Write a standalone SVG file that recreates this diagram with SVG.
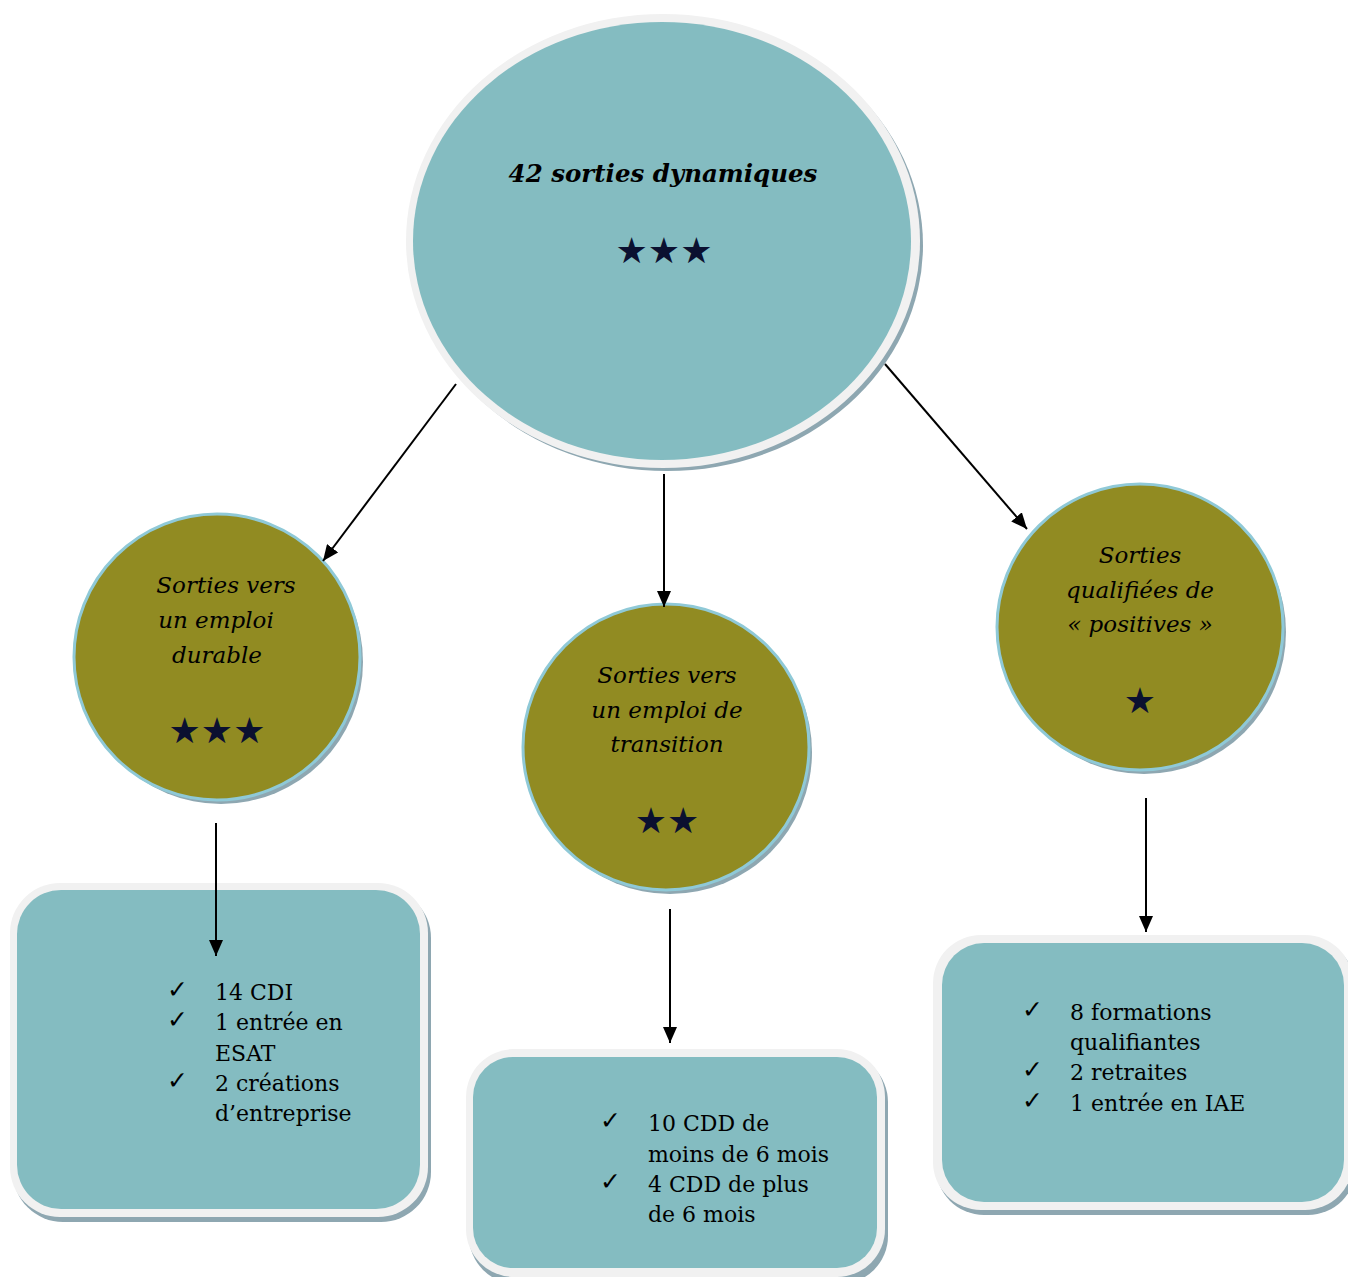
<svg xmlns="http://www.w3.org/2000/svg" width="1348" height="1277" viewBox="0 0 1348 1277">
<style>
.sh{fill:#8ea7b1}
.ring{fill:#f1f1f1}
.teal{fill:#84bcc1}
.olive{fill:#918b22;stroke:#8fc9d7;stroke-width:3}
.t{font-family:"DejaVu Serif","Liberation Serif",serif;fill:#000}
.it{font-style:italic;font-size:23px;text-anchor:middle}
.li{font-size:22px}
.star{font-family:"DejaVu Sans",sans-serif;fill:#0b1030;text-anchor:middle;font-size:36px}
.ck{font-family:"DejaVu Sans",sans-serif;font-size:25px;fill:#000}
.c{stroke:#000;stroke-width:2;fill:none}
</style>
<defs>
<marker id="ah" viewBox="0 0 16 14" refX="16" refY="7" markerWidth="16" markerHeight="14" markerUnits="userSpaceOnUse" orient="auto">
<path d="M0,0 L16,7 L0,14 Z" fill="#000"/>
</marker>
</defs>
<g id="top">
<ellipse class="sh" cx="667" cy="245" rx="256" ry="226"/>
<ellipse class="ring" cx="663" cy="241" rx="257" ry="227"/>
<ellipse class="teal" cx="662" cy="241" rx="249" ry="219"/>
<text class="t" x="663" y="182" text-anchor="middle" font-size="24.5" font-weight="bold" font-style="italic">42 sorties dynamiques</text>
<text class="star" x="664" y="263">★★★</text>
</g>
<g id="durable">
<circle class="sh" cx="221" cy="662" r="142"/>
<circle class="olive" cx="217" cy="657" r="143"/>
<text class="t it" x="226" y="593">Sorties vers</text>
<text class="t it" x="216" y="628">un emploi</text>
<text class="t it" x="217" y="663">durable</text>
<text class="star" x="217" y="743">★★★</text>
</g>
<g id="transition">
<circle class="sh" cx="670" cy="752" r="142"/>
<circle class="olive" cx="666" cy="747" r="143"/>
<text class="t it" x="667" y="683">Sorties vers</text>
<text class="t it" x="667" y="718">un emploi de</text>
<text class="t it" x="667" y="752">transition</text>
<text class="star" x="667" y="833">★★</text>
</g>
<g id="positives">
<circle class="sh" cx="1144" cy="632" r="142"/>
<circle class="olive" cx="1140" cy="627" r="143"/>
<text class="t it" x="1140" y="563">Sorties</text>
<text class="t it" x="1140" y="598">qualifiées de</text>
<text class="t it" x="1140" y="632">« positives »</text>
<text class="star" x="1140" y="713">★</text>
</g>
<g id="box-durable">
<rect class="sh" x="13" y="888" width="418" height="334" rx="50"/>
<rect class="ring" x="10" y="883" width="418" height="334" rx="50"/>
<rect class="teal" x="17" y="890" width="403" height="319" rx="44"/>
<text class="ck" x="167" y="998">✓</text>
<text class="ck" x="167" y="1028">✓</text>
<text class="ck" x="167" y="1089">✓</text>
<text class="t li" x="215" y="1000">14 CDI</text>
<text class="t li" x="215" y="1030">1 entrée en</text>
<text class="t li" x="215" y="1061">ESAT</text>
<text class="t li" x="215" y="1091">2 créations</text>
<text class="t li" x="215" y="1121">d’entreprise</text>
</g>
<g id="box-transition">
<rect class="sh" x="469" y="1054" width="419" height="230" rx="48"/>
<rect class="ring" x="466" y="1049" width="419" height="228" rx="48"/>
<rect class="teal" x="473" y="1057" width="404" height="211" rx="40"/>
<text class="ck" x="600" y="1129">✓</text>
<text class="ck" x="600" y="1190">✓</text>
<text class="t li" x="648" y="1131">10 CDD de</text>
<text class="t li" x="648" y="1162">moins de 6 mois</text>
<text class="t li" x="648" y="1192">4 CDD de plus</text>
<text class="t li" x="648" y="1222">de 6 mois</text>
</g>
<g id="box-positives">
<rect class="sh" x="936" y="940" width="420" height="275" rx="48"/>
<rect class="ring" x="933" y="935" width="420" height="275" rx="48"/>
<rect class="teal" x="942" y="943" width="402" height="259" rx="42"/>
<text class="ck" x="1022" y="1018">✓</text>
<text class="ck" x="1022" y="1078">✓</text>
<text class="ck" x="1022" y="1109">✓</text>
<text class="t li" x="1070" y="1020">8 formations</text>
<text class="t li" x="1070" y="1050">qualifiantes</text>
<text class="t li" x="1070" y="1080">2 retraites</text>
<text class="t li" x="1070" y="1111">1 entrée en IAE</text>
</g>
<g id="connectors">
<line class="c" x1="456" y1="384" x2="323" y2="561" marker-end="url(#ah)"/>
<line class="c" x1="664" y1="474" x2="664" y2="607" marker-end="url(#ah)"/>
<line class="c" x1="885" y1="364" x2="1027" y2="529" marker-end="url(#ah)"/>
<line class="c" x1="216" y1="823" x2="216" y2="956" marker-end="url(#ah)"/>
<line class="c" x1="670" y1="909" x2="670" y2="1043" marker-end="url(#ah)"/>
<line class="c" x1="1146" y1="798" x2="1146" y2="932" marker-end="url(#ah)"/>
</g>
</svg>
